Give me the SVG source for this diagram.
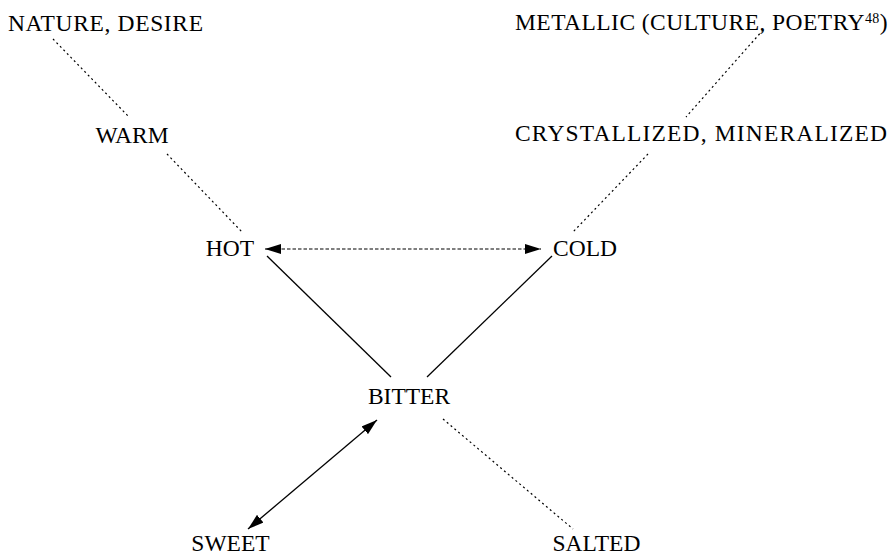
<svg xmlns="http://www.w3.org/2000/svg" width="890" height="555" viewBox="0 0 890 555">
<style>
text{font-family:'Liberation Serif','Times New Roman','DejaVu Serif',serif;font-size:23.5px;fill:#000;text-anchor:middle}
.dot{stroke:#000;stroke-width:1.2;stroke-dasharray:2 3;fill:none}
.dash{stroke:#000;stroke-width:1.1;stroke-dasharray:3.5 2;fill:none}
.solid{stroke:#000;stroke-width:1.3;fill:none}
</style>
<defs>
<marker id="ah" viewBox="0 0 16 10" refX="16" refY="5" markerWidth="16" markerHeight="10" markerUnits="userSpaceOnUse" orient="auto-start-reverse">
<path d="M0,0 L16,5 L0,10 Z" fill="#000"/>
</marker>
</defs>
<rect width="890" height="555" fill="#fff"/>
<g id="connectors">
<line class="dot" x1="53" y1="39" x2="129" y2="117"/>
<line class="dot" x1="167" y1="154" x2="242" y2="232"/>
<line class="dot" x1="763" y1="30" x2="686" y2="117"/>
<line class="dot" x1="648" y1="154" x2="573" y2="232"/>
<line class="dash" x1="265" y1="249" x2="541" y2="249" marker-start="url(#ah)" marker-end="url(#ah)"/>
<line class="solid" x1="267" y1="256" x2="391" y2="377"/>
<line class="solid" x1="552" y1="256" x2="427" y2="377"/>
<line class="solid" x1="377" y1="420" x2="248" y2="529" marker-start="url(#ah)" marker-end="url(#ah)"/>
<line class="dot" x1="443" y1="419" x2="573" y2="529"/>
</g>
<g id="nature"><text x="105.5" y="31" font-family="Liberation Serif, serif" textLength="195" lengthAdjust="spacing">NATURE, DESIRE</text></g>
<g id="warm"><text x="132" y="143" font-family="Liberation Serif, serif">WARM</text></g>
<g id="metallic"><text x="515" y="30" font-family="Liberation Serif, serif" style="text-anchor:start;letter-spacing:0.45px">METALLIC (CULTURE, POETRY<tspan dy="-7" style="font-size:14px">48</tspan><tspan dy="7">)</tspan></text></g>
<g id="crystallized"><text x="701" y="141" font-family="Liberation Serif, serif" textLength="372" lengthAdjust="spacing">CRYSTALLIZED, MINERALIZED</text></g>
<g id="hot"><text x="230" y="256" font-family="Liberation Serif, serif">HOT</text></g>
<g id="cold"><text x="585" y="256" font-family="Liberation Serif, serif">COLD</text></g>
<g id="bitter"><text x="409" y="404" font-family="Liberation Serif, serif">BITTER</text></g>
<g id="sweet"><text x="230.5" y="551" font-family="Liberation Serif, serif">SWEET</text></g>
<g id="salted"><text x="596.5" y="551" font-family="Liberation Serif, serif">SALTED</text></g>
</svg>
